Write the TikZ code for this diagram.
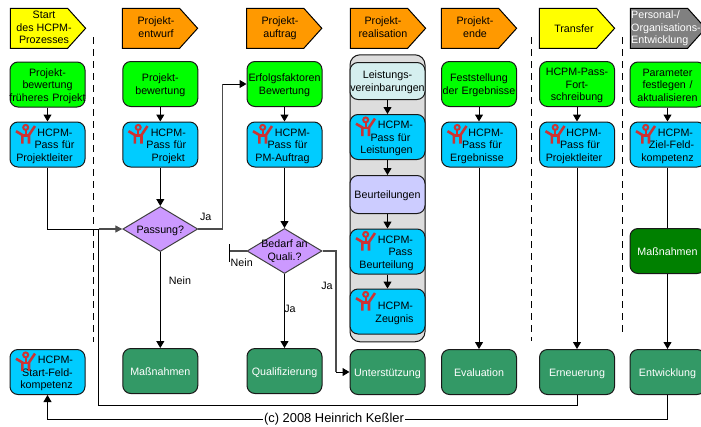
\documentclass[tikz,border=0pt]{standalone}
\usepackage{fontspec}
\setmainfont{Liberation Sans}
\usetikzlibrary{arrows.meta,shapes.geometric}
\definecolor{cyell}{HTML}{FFFF00}
\definecolor{corange}{HTML}{FF9900}
\definecolor{cgray}{HTML}{808080}
\definecolor{cgreen}{HTML}{00FF00}
\definecolor{cblue}{HTML}{00CCFF}
\definecolor{csea}{HTML}{339966}
\definecolor{cdark}{HTML}{008000}
\definecolor{clav}{HTML}{CCCCFF}
\definecolor{ccyan}{HTML}{D5EFEF}
\definecolor{ccont}{HTML}{DDDDDD}
\definecolor{cdiam}{HTML}{CC99FF}
\definecolor{cred}{HTML}{CC3333}
\newcommand{\shft}[1]{\hspace*{#1pt}}
\newcommand{\hdrshape}[3]{% left x, fill, tip x offset
  \path[draw=black,line width=1pt,fill=#2] (#1,8.3) -- ++(#3-18,0) -- (#1+#3,28.3) -- (#1+#3-18,48.3) -- (#1,48.3) -- cycle;}
\tikzset{
  x=1pt,y=-1pt,
  txt/.style={font=\fontsize{10.7}{12.6}\selectfont,align=center,inner sep=0pt,
    execute at begin node={\rule{0pt}{10.8pt}},execute at end node={\rule[-2.3pt]{0pt}{2.3pt}}},
  box/.style={txt,draw=black!90,line width=1pt,rounded corners=8pt,minimum width=75pt,minimum height=45pt,text width=95pt,inner xsep=-10pt},
  gbox/.style={box,fill=cgreen},
  bbox/.style={box,fill=cblue},
  sbox/.style={box,fill=csea,text=white},
  diam/.style={diamond,draw=black!75,line width=1pt,fill=cdiam,minimum width=75pt,minimum height=45pt,inner sep=0pt,aspect=1.67},
  conn/.style={draw=black,line width=1pt},
  arr/.style={conn,-{Triangle[length=7pt,width=8pt]}},
  gconn/.style={draw=black!70,line width=1.2pt},
  dashline/.style={draw=black,line width=1pt,dash pattern=on 7pt off 5pt},
  hcpm/.pic={
    \draw[cred,line width=2pt,fill=none] (15.7,5.4) circle[radius=2.5];
    \draw[cred,line width=2.6pt,line join=miter] (6,9.2) -- (12.4,13) -- (12.4,21.5);
    \draw[cred,line width=2.6pt,line join=miter] (25,4) -- (19,13) -- (19,21.5);
    \draw[cred,line width=2.6pt] (12.4,13.5) -- (19,13.5);
    \draw[cred,line width=2pt] (15.7,7.5) -- (15.7,13);
  },
}
\begin{document}
\begin{tikzpicture}
\useasboundingbox (0,0) rectangle (701,426);
\clip (0,0) rectangle (701,426);
\fill[white] (0,0) rectangle (701,426);

% headers
\hdrshape{10.3}{cyell}{75.3}
\hdrshape{122.3}{corange}{75.3}
\hdrshape{246.5}{corange}{75.3}
\hdrshape{350.3}{corange}{75.3}
\hdrshape{441.3}{corange}{75.3}
\hdrshape{539.3}{cyell}{75.3}
\hdrshape{630.3}{cgray}{75.3}
\node[txt] (h1) at (44,28.5) {Start\\des HCPM-\\Prozesses};
\node[txt] (h2) at (156,28.5) {Projekt-\\entwurf};
\node[txt] (h3) at (280,28.5) {Projekt-\\auftrag};
\node[txt] (h4) at (383,28.5) {Projekt-\\realisation};
\node[txt] (h5) at (475,28.5) {Projekt-\\ende};
\node[txt] (h6) at (574,28.5) {Transfer};
\node[txt,text=white,align=left,anchor=west] (h7) at (631,28.5) {Personal-/\\Organisations-\\Entwicklung};

% dashed separators
\coordinate (d1a) at (93.3,37); \coordinate (d1b) at (93.3,342);
\coordinate (d2a) at (531.8,37); \coordinate (d2b) at (531.8,341);
\coordinate (d3a) at (622.3,37); \coordinate (d3b) at (622.3,332);
\draw[dashline] (d1a) -- (d1b);
\draw[dashline] (d2a) -- (d2b);
\draw[dashline] (d3a) -- (d3b);

% container
\node[draw=black!90,line width=1pt,fill=ccont,rounded corners=10pt,minimum width=75pt,minimum height=287pt,inner sep=0pt] (cont) at (387.5,198.3) {};

% boxes
\node[gbox] (g1) at (47.5,84.5) {Projekt-\\bewertung\\früheres Projekt};
\node[bbox] (b1) at (47.5,144.5) {\shft{15}HCPM-\\\shft{14}Pass für\\\shft{-6}Projektleiter};
\node[gbox] (g2) at (160.3,84) {Projekt-\\bewertung};
\node[bbox] (b2) at (160.3,144.5) {\shft{16}HCPM-\\\shft{12}Pass für\\\shft{16}Projekt};
\node[gbox] (g3) at (284.5,84) {Erfolgsfaktoren\\Bewertung};
\node[bbox] (b3) at (284.5,144.5) {\shft{16}HCPM-\\\shft{6}Pass für\\\shft{-4}PM-Auftrag};
\node[box,fill=ccyan,minimum height=37pt] (g4) at (387.5,81) {Leistungs-\\vereinbarungen};
\node[bbox] (b4) at (387.5,137) {\shft{16}HCPM-\\\shft{6}Pass für\\\shft{-2}Leistungen};
\node[box,fill=clav,minimum height=38pt] (l4) at (387.5,194.5) {Beurteilungen};
\node[bbox] (c4) at (387.5,251.5) {\shft{16}HCPM-\\\shft{26}Pass\\\shft{-2}Beurteilung};
\node[bbox] (z4) at (387.5,311.5) {\shft{16}HCPM-\\\shft{14}Zeugnis};
\node[gbox] (g5) at (479,84) {Feststellung\\der Ergebnisse};
\node[bbox] (b5) at (479,144.5) {\shft{14}HCPM-\\\shft{6}Pass für\\\shft{-4}Ergebnisse};
\node[gbox] (g6) at (577,84) {HCPM-Pass-\\Fort-\\schreibung};
\node[bbox] (b6) at (577,144.5) {\shft{14}HCPM-\\\shft{6}Pass für\\\shft{-6}Projektleiter};
\node[gbox] (g7) at (667.5,84.5) {Parameter\\festlegen /\\aktualisieren};
\node[bbox] (b7) at (667.5,144.5) {\shft{16}HCPM-\\\shft{8}Ziel-Feld-\\kompetenz};
\node[box,fill=cdark,text=white] (m7) at (667.5,251) {Maßnahmen};
\node[bbox] (s1) at (47.5,372) {\shft{16}HCPM-\\Start-Feld-\\\shft{-2}kompetenz};
\node[sbox] (m2) at (160.3,371) {Maßnahmen};
\node[sbox] (q3) at (284.5,371) {Qualifizierung};
\node[sbox] (u4) at (387.5,372) {Unterstützung};
\node[sbox] (e5) at (479,372) {Evaluation};
\node[sbox] (e6) at (577,372) {Erneuerung};
\node[sbox] (e7) at (667.5,372) {Entwicklung};

% diamonds
\node[diam] (pass) at (160.3,229) {};
\node[txt] (passt) at (160.3,229) {Passung?};
\node[diam] (bed) at (284.5,251) {};
\node[txt] (bedt) at (284.5,251) {Bedarf an\\Quali.?};

% icons
\foreach \cx/\cy in {10/122,122.5/122,247/122,350/114.5,350/229,350/289,441.5/122,539.5/122,630/122,10/349.5}
  \pic at (\cx,\cy) {hcpm};

% connectors
\coordinate (j) at (98.5,229);
\coordinate (k) at (222.5,84);
\coordinate (t) at (229.5,251);
\coordinate (ta) at (229.5,244);
\coordinate (tb) at (229.5,262);
\coordinate (r) at (336,372);
\draw[arr] (g1) -- (b1);
\draw[arr] (g2) -- (b2);
\draw[arr] (g3) -- (b3);
\draw[arr] (g4) -- (b4);
\draw[arr] (b4) -- (l4);
\draw[arr] (l4) -- (c4);
\draw[arr] (c4) -- (z4);
\draw[arr] (g5) -- (b5);
\draw[arr] (g6) -- (b6);
\draw[arr] (g7) -- (b7);
\draw[arr] (b2.south) -- (pass.north);
\draw[arr] (b3.south) -- (bed.north);
\draw[arr] (pass.south) -- (m2.north);
\draw[arr] (bed.south) -- (q3.north);
\draw[arr] (b5) -- (e5);
\draw[arr] (b6) -- (e6);
\draw[conn] (b7) -- (m7);
\draw[arr] (m7) -- (e7);
\draw[conn] (b1.south) |- (j);
\draw[gconn,-{Triangle[length=7pt,width=7pt]}] (j) -- (pass.west);
\draw[gconn] (pass.east) -| (k);
\draw[arr] (k) -- (g3.west);
\draw[gconn] (bed.west) -- (t);
\draw[conn] (ta) -- (tb);
\draw[gconn] (bed.east) -| (r);
\draw[arr] (r) -- (u4.west);
\draw[conn] (e6.south) -- ++(0,10) -| (j);
\draw[arr] (e7.south) -- ++(0,24) -| (s1.south);
\node[font=\fontsize{12.9}{14}\selectfont,fill=white,inner xsep=1pt,inner ysep=1pt] (copy) at (334,419.5) {(c) 2008 Heinrich Keßler};

% labels
\node[txt] (ja1) at (205.7,216.7) {Ja};
\node[txt] (ne1) at (180,280.7) {Nein};
\node[txt] (ne2) at (241.7,262.6) {Nein};
\node[txt] (ja2) at (327,285) {Ja};
\node[txt] (ja3) at (290,308) {Ja};
\end{tikzpicture}
\end{document}
